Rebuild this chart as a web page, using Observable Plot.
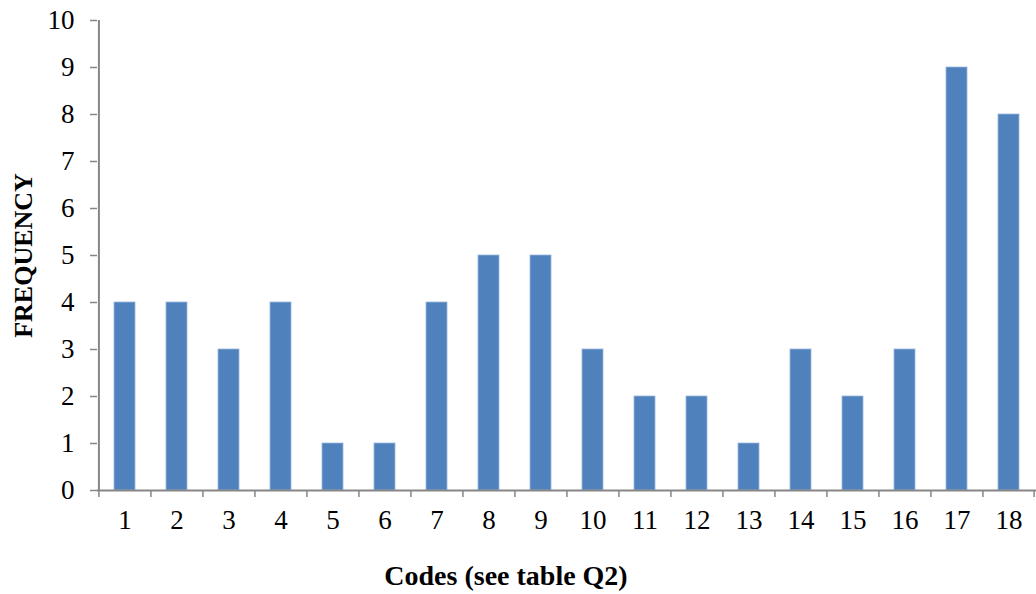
<!DOCTYPE html>
<html>
<head>
<meta charset="utf-8">
<script src="https://cdn.jsdelivr.net/npm/d3@7"></script>
<script src="https://cdn.jsdelivr.net/npm/@observablehq/plot@0.6"></script>
<style>
  html, body { margin: 0; padding: 0; background: #fff; }
  #chart svg { display: block; }
</style>
</head>
<body>
<div id="chart"></div>
<script>
const codes = ["1","2","3","4","5","6","7","8","9","10","11","12","13","14","15","16","17","18"];
const frequency = [4,4,3,4,1,1,4,5,5,3,2,2,1,3,2,3,9,8];
const yTicks = [0,1,2,3,4,5,6,7,8,9,10];
const xLabel = "Codes (see table Q2)";
const yLabel = "FREQUENCY";

const data = codes.map((c, i) => ({code: c, value: frequency[i]}));
const W = 1036, H = 594;
const mL = 97, mR = 0, mT = 20, mB = 104;
const step = (W - mL - mR) / codes.length;

const chart = Plot.plot({
  width: W,
  height: H,
  marginLeft: mL,
  marginRight: mR,
  marginTop: mT,
  marginBottom: mB,
  style: {fontFamily: "'Liberation Serif', serif", fontSize: "27px", color: "#000", background: "#fff"},
  x: {domain: codes, paddingInner: 0.6, paddingOuter: 0.3, align: 0.5},
  y: {domain: [0, 10]},
  marks: [
    Plot.barY(data, {x: "code", y: "value", fill: "#4F81BD", stroke: "#9BB7DC", strokeWidth: 0.8}),
    Plot.axisY({ticks: yTicks, tickSize: 7, tickPadding: 16, stroke: "#868686", strokeWidth: 1.5, label: yLabel, labelAnchor: "center", labelArrow: "none", labelOffset: 84}),
    Plot.axisX({tickSize: 0, tickPadding: 19, label: null}),
    Plot.ruleX([codes[0]], {x: d => d, dx: -step / 2, y1: 0, y2: 10, stroke: "#868686", strokeWidth: 2}),
    Plot.ruleY([0], {stroke: "#868686", strokeWidth: 2}),
    Plot.ruleX([...codes], {x: d => d, dx: -step / 2, y1: 0, y2: 0, insetBottom: -7, stroke: "#868686", strokeWidth: 1.5}),
    Plot.ruleX([codes[codes.length - 1]], {x: d => d, dx: step / 2 - 1, y1: 0, y2: 0, insetBottom: -7, stroke: "#868686", strokeWidth: 1.5}),
    Plot.text([xLabel], {text: d => d, frameAnchor: "bottom", dx: -61, dy: 86, lineAnchor: "middle", fontWeight: "bold", fontSize: 28})
  ]
});
d3.select(chart).selectAll("g[aria-label='y-axis tick label'] text, g[aria-label='x-axis tick label'] text").style("font-size", "27px");
d3.select(chart).selectAll("g[aria-label='y-axis label'] text").style("font-weight", "bold").style("font-size", "26px");
document.getElementById("chart").appendChild(chart);
</script>
</body>
</html>
